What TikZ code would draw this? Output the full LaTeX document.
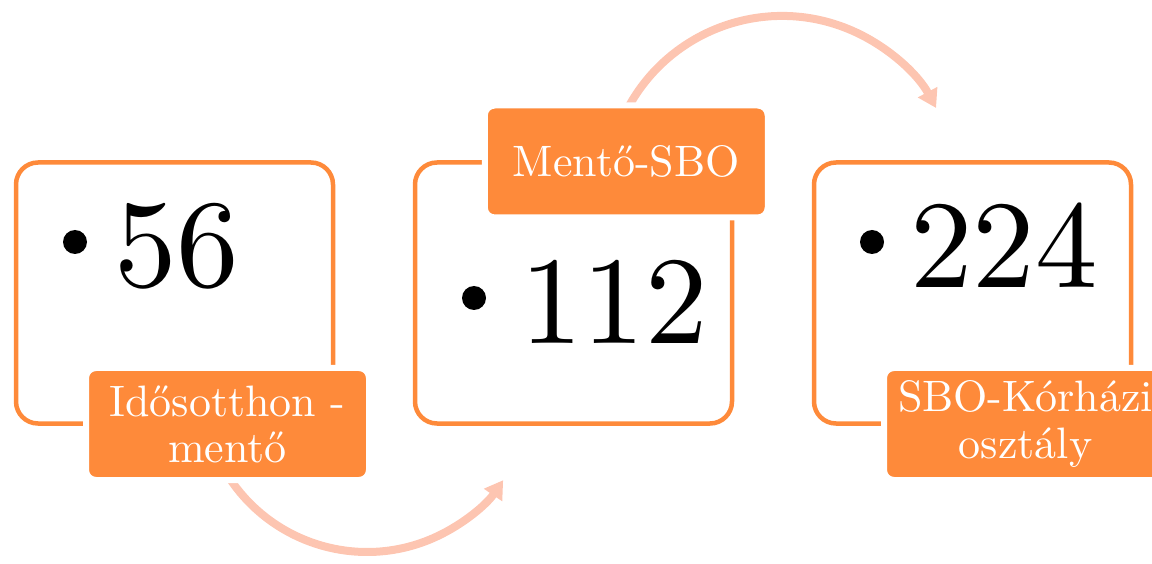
\documentclass[tikz,border=0pt]{standalone}
\usepackage{fontspec}
\setmainfont{lmroman10-regular.otf}
\usetikzlibrary{arrows.meta}
\definecolor{boxorange}{RGB}{254,138,58}
\definecolor{arrowpink}{RGB}{253,197,177}
\tikzset{
  framebox/.style={draw=boxorange, line width=4.5pt, rounded corners=22pt},
  labelbox/.style={draw=white, line width=6pt, fill=boxorange, rounded corners=10pt,
    minimum width=283pt, minimum height=112pt, inner sep=0pt, text=white, align=center,
    font=\fontsize{44}{46}\selectfont},
  bignum/.style={anchor=base west, inner sep=0pt, font=\fontsize{125}{130}\selectfont},
  bulletdot/.style={circle, fill=black, minimum size=24pt, inner sep=0pt},
  flowarc/.style={draw=arrowpink, line width=8pt, -{Triangle[length=18pt,width=21pt]}}
}
\begin{document}
\begin{tikzpicture}[x=1pt,y=1pt]
\useasboundingbox (0,0) rectangle (1152,563);
\clip (0,0) rectangle (1152,563);
% arcs
\draw[flowarc] (217.5,106.3) arc[start angle=205, end angle=325.6, radius=165];
\draw[flowarc] (623.4,446) arc[start angle=155, end angle=28.3, radius=175];
% frames
\draw[framebox] (16,139.5) rectangle (333,400.5);
\draw[framebox] (415,139.5) rectangle (732,400.5);
\draw[framebox] (814,139.5) rectangle (1131,400.5);
% numbers
\node[bulletdot] (b1) at (75,321) {};
\node[bignum] (n1) at (114,276) {56};
\node[bulletdot] (b2) at (474,265) {};
\node[bignum] (n2) at (520,219) {112};
\node[bulletdot] (b3) at (872,321) {};
\node[bignum] (n3) at (910,275) {224};
% labels
\node[labelbox] (l1) at (227.5,139) {Idősotthon -\\mentő};
\node[labelbox] (l2) at (626.25,401.5) {Mentő-SBO};
\node[labelbox] (l3) at (1025.5,139) {SBO-Kórházi\\osztály};
\end{tikzpicture}
\end{document}
